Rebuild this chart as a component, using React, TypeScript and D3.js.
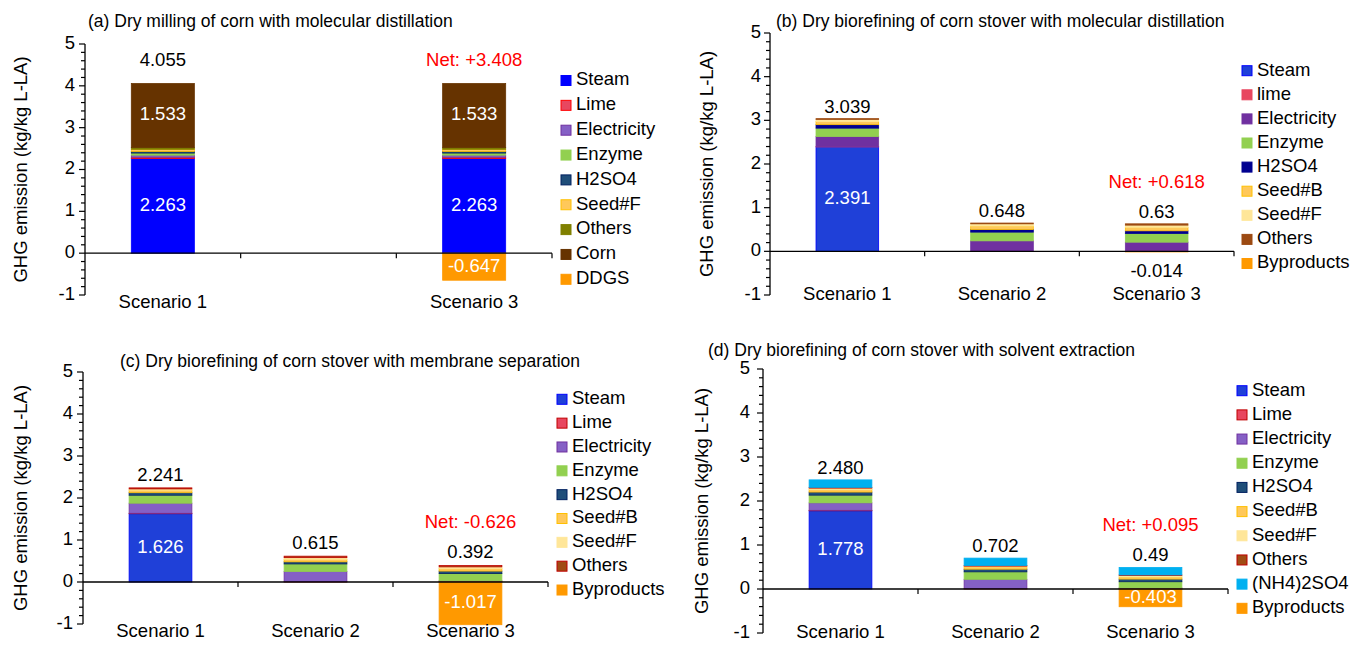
import React from "react";
import * as d3 from "d3";

// ---------- DATA ----------
const scenarios = ["Scenario 1", "Scenario 2", "Scenario 3"];

// Panel (a)
const aTitle = "(a) Dry milling of corn with molecular distillation";
const aScenarioLabels = ["Scenario 1", "", "Scenario 3"];
const aSeries = ["Steam", "Lime", "Electricity", "Enzyme", "H2SO4", "Seed#F", "Others", "Corn", "DDGS"];
const aValues = [
  [2.263, 0, 2.263],
  [0.03, 0, 0.03],
  [0.05, 0, 0.05],
  [0.05, 0, 0.05],
  [0.04, 0, 0.04],
  [0.05, 0, 0.05],
  [0.039, 0, 0.039],
  [1.533, 0, 1.533],
  [0, 0, -0.647],
];
const aTotals = ["4.055", "", ""];
const aNet = ["", "", "Net: +3.408"];
const aBelow = ["", "", ""];
const aInside = [
  { series: "Corn", scenario: 0, text: "1.533" },
  { series: "Steam", scenario: 0, text: "2.263" },
  { series: "Corn", scenario: 2, text: "1.533" },
  { series: "Steam", scenario: 2, text: "2.263" },
  { series: "DDGS", scenario: 2, text: "-0.647" },
];

// Panel (b)
const bTitle = "(b) Dry biorefining of corn stover with molecular distillation";
const bSeries = ["Steam", "lime", "Electricity", "Enzyme", "H2SO4", "Seed#B", "Seed#F", "Others", "Byproducts"];
const bValues = [
  [2.391, 0, 0],
  [0.01, 0, 0],
  [0.23, 0.24, 0.21],
  [0.19, 0.2, 0.2],
  [0.08, 0.06, 0.06],
  [0.07, 0.08, 0.08],
  [0.05, 0.05, 0.05],
  [0.018, 0.018, 0.03],
  [0, 0, -0.014],
];
const bTotals = ["3.039", "0.648", "0.63"];
const bNet = ["", "", "Net: +0.618"];
const bBelow = ["", "", "-0.014"];
const bInside = [{ series: "Steam", scenario: 0, text: "2.391" }];

// Panel (c)
const cTitle = "(c) Dry biorefining of corn stover with membrane separation";
const cSeries = ["Steam", "Lime", "Electricity", "Enzyme", "H2SO4", "Seed#B", "Seed#F", "Others", "Byproducts"];
const cValues = [
  [1.626, 0, 0],
  [0.01, 0.01, 0.01],
  [0.24, 0.24, 0.02],
  [0.19, 0.18, 0.17],
  [0.06, 0.05, 0.06],
  [0.06, 0.06, 0.06],
  [0.03, 0.04, 0.04],
  [0.025, 0.035, 0.032],
  [0, 0, -1.017],
];
const cTotals = ["2.241", "0.615", "0.392"];
const cNet = ["", "", "Net: -0.626"];
const cBelow = ["", "", ""];
const cInside = [
  { series: "Steam", scenario: 0, text: "1.626" },
  { series: "Byproducts", scenario: 2, text: "-1.017" },
];

// Panel (d)
const dTitle = "(d) Dry biorefining of corn stover with solvent extraction";
const dSeries = ["Steam", "Lime", "Electricity", "Enzyme", "H2SO4", "Seed#B", "Seed#F", "Others", "(NH4)2SO4", "Byproducts"];
const dValues = [
  [1.778, 0, 0],
  [0.01, 0.01, 0.005],
  [0.17, 0.21, 0.02],
  [0.175, 0.17, 0.14],
  [0.07, 0.06, 0.06],
  [0.06, 0.05, 0.05],
  [0.03, 0.02, 0.03],
  [0.017, 0.012, 0.015],
  [0.17, 0.17, 0.17],
  [0, 0, -0.403],
];
const dTotals = ["2.480", "0.702", "0.49"];
const dNet = ["", "", "Net: +0.095"];
const dBelow = ["", "", ""];
const dInside = [
  { series: "Steam", scenario: 0, text: "1.778" },
  { series: "Byproducts", scenario: 2, text: "-0.403" },
];

const yTicks = [5, 4, 3, 2, 1, 0, -1];
const yLabel = "GHG emission (kg/kg L-LA)";

// ---------- STYLES ----------
type Sty = { fill: string; stroke: string };
const stylesA: Record<string, Sty> = {
  Steam: { fill: "#0000FF", stroke: "#0000FF" },
  Lime: { fill: "#E8475F", stroke: "#FF0000" },
  Electricity: { fill: "#8560C5", stroke: "#7030A0" },
  Enzyme: { fill: "#92D050", stroke: "#92D050" },
  H2SO4: { fill: "#1F4E79", stroke: "#002060" },
  "Seed#F": { fill: "#FFC85A", stroke: "#FFC000" },
  Others: { fill: "#808000", stroke: "#808000" },
  Corn: { fill: "#663300", stroke: "#663300" },
  DDGS: { fill: "#FF9900", stroke: "#FF9900" },
};
const stylesB: Record<string, Sty> = {
  Steam: { fill: "#1F40D8", stroke: "#0000FF" },
  lime: { fill: "#E8475F", stroke: "#E8475F" },
  Electricity: { fill: "#7030A0", stroke: "#7030A0" },
  Enzyme: { fill: "#92D050", stroke: "#92D050" },
  H2SO4: { fill: "#000090", stroke: "#000090" },
  "Seed#B": { fill: "#FFC85A", stroke: "#FFC000" },
  "Seed#F": { fill: "#FFE699", stroke: "#FFE699" },
  Others: { fill: "#9C4A12", stroke: "#9C4A12" },
  Byproducts: { fill: "#FF9900", stroke: "#FF9900" },
};
const stylesC: Record<string, Sty> = {
  Steam: { fill: "#1F40D8", stroke: "#0000FF" },
  Lime: { fill: "#E8475F", stroke: "#C00000" },
  Electricity: { fill: "#8560C5", stroke: "#7030A0" },
  Enzyme: { fill: "#92D050", stroke: "#92D050" },
  H2SO4: { fill: "#1F4E79", stroke: "#002060" },
  "Seed#B": { fill: "#FFC85A", stroke: "#FFC000" },
  "Seed#F": { fill: "#FFE699", stroke: "#FFE699" },
  Others: { fill: "#A04C14", stroke: "#C00000" },
  Byproducts: { fill: "#FF9900", stroke: "#FF9900" },
};
const stylesD: Record<string, Sty> = {
  ...stylesC,
  "(NH4)2SO4": { fill: "#00B0F0", stroke: "#00B0F0" },
};

const FONT = "'Liberation Sans', Arial, Helvetica, sans-serif";

type PanelProps = {
  title: string;
  titleX: number;
  titleY: number;
  series: string[];
  values: number[][];
  styles: Record<string, Sty>;
  scenarioLabels: string[];
  totals: string[];
  net: string[];
  below: string[];
  inside: { series: string; scenario: number; text: string }[];
  x0: number;
  x1: number;
  yTop: number;
  yBottom: number;
  yLabelX: number;
  xLabelY: number;
  totalOffset: number;
  legendX: number;
  legendY: number;
  legendDy: number;
  tickGap: number;
};

function Panel(p: PanelProps) {
  const x = d3.scaleBand<string>().domain(scenarios).range([p.x0, p.x1]).paddingInner(0).paddingOuter(0);
  const y = d3.scaleLinear().domain([-1, 5]).range([p.yBottom, p.yTop]);
  const barW = x.bandwidth() * 0.405;
  const rows = scenarios.map((s, i) => {
    const r: any = { scenario: s };
    p.series.forEach((k, j) => (r[k] = p.values[j][i]));
    return r;
  });
  const stacked = d3.stack<any>().keys(p.series).offset(d3.stackOffsetDiverging)(rows);
  const minor = d3.range(-1, 5.0001, 0.2).map((v) => Math.round(v * 10) / 10);
  const y0 = y(0);
  const cx = (i: number) => (x(scenarios[i]) as number) + x.bandwidth() / 2;
  const topOf = (i: number) => Math.max(...stacked.map((s) => s[i][1]));
  const botOf = (i: number) => Math.min(...stacked.map((s) => s[i][0]));
  const fs = 18.5;

  return (
    <g fontFamily={FONT}>
      <text x={p.titleX} y={p.titleY} fontSize={17.5} dominantBaseline="middle" fill="#000">
        {p.title}
      </text>
      <text
        transform={`translate(${p.yLabelX},${(p.yTop + p.yBottom) / 2}) rotate(-90)`}
        textAnchor="middle"
        dominantBaseline="middle"
        fontSize={18.5}
        fill="#000"
      >
        {yLabel}
      </text>
      {/* bars */}
      {stacked.map((layer) => {
        const st = p.styles[layer.key];
        return (
          <g key={layer.key}>
            {layer.map((d, i) => {
              const h = Math.abs(y(d[0]) - y(d[1]));
              if (h <= 0) return null;
              return (
                <rect
                  key={i}
                  x={cx(i) - barW / 2}
                  y={Math.min(y(d[0]), y(d[1]))}
                  width={barW}
                  height={h}
                  fill={st.fill}
                  stroke={st.stroke}
                  strokeWidth={0.8}
                />
              );
            })}
          </g>
        );
      })}
      {/* y axis */}
      <line x1={p.x0} x2={p.x0} y1={y(5)} y2={y(-1)} stroke="#000" strokeWidth={1.3} />
      {minor.map((v) => (
        <line key={"m" + v} x1={p.x0 - (Number.isInteger(v) ? 6 : 4)} x2={p.x0} y1={y(v)} y2={y(v)} stroke="#000" strokeWidth={1.2} />
      ))}
      {yTicks.map((v) => (
        <text key={"t" + v} x={p.x0 - p.tickGap} y={y(v)} textAnchor="end" dominantBaseline="middle" fontSize={fs} fill="#000">
          {v}
        </text>
      ))}
      {/* x axis */}
      <line x1={p.x0} x2={p.x1} y1={y0} y2={y0} stroke="#000" strokeWidth={1.3} />
      {scenarios.map((s, i) => (
        <line key={"xt" + i} x1={(x(s) as number) + x.bandwidth()} x2={(x(s) as number) + x.bandwidth()} y1={y0} y2={y0 + 5} stroke="#000" strokeWidth={1.2} />
      ))}
      {p.scenarioLabels.map((s, i) =>
        s ? (
          <text key={"xl" + i} x={cx(i)} y={p.xLabelY} textAnchor="middle" dominantBaseline="middle" fontSize={fs} fill="#000">
            {s}
          </text>
        ) : null
      )}
      {/* labels */}
      {p.totals.map((t, i) =>
        t ? (
          <text key={"tot" + i} x={cx(i)} y={y(topOf(i)) - p.totalOffset} textAnchor="middle" dominantBaseline="middle" fontSize={fs} fill="#000">
            {t}
          </text>
        ) : null
      )}
      {p.net.map((t, i) =>
        t ? (
          <text
            key={"net" + i}
            x={cx(i)}
            y={p.totals[i] ? y(topOf(i)) - p.totalOffset - 30 : y(topOf(i)) - p.totalOffset}
            textAnchor="middle"
            dominantBaseline="middle"
            fontSize={fs}
            fill="#FF0000"
          >
            {t}
          </text>
        ) : null
      )}
      {p.below.map((t, i) =>
        t ? (
          <text key={"bel" + i} x={cx(i)} y={y(botOf(i)) + 20} textAnchor="middle" dominantBaseline="middle" fontSize={fs} fill="#000">
            {t}
          </text>
        ) : null
      )}
      {p.inside.map((lab, k) => {
        const layer = stacked.find((s) => s.key === lab.series)!;
        const d = layer[lab.scenario];
        return (
          <text
            key={"in" + k}
            x={cx(lab.scenario)}
            y={(y(d[0]) + y(d[1])) / 2}
            textAnchor="middle"
            dominantBaseline="middle"
            fontSize={fs}
            fill="#FFFFFF"
          >
            {lab.text}
          </text>
        );
      })}
      {/* legend */}
      {p.series.map((k, i) => {
        const st = p.styles[k];
        const ly = p.legendY + i * p.legendDy;
        return (
          <g key={"lg" + k}>
            <rect x={p.legendX} y={ly - 5} width={10} height={10} fill={st.fill} stroke={st.stroke} strokeWidth={1} />
            <text x={p.legendX + 15} y={ly} dominantBaseline="middle" fontSize={fs} fill="#000">
              {k}
            </text>
          </g>
        );
      })}
    </g>
  );
}

export default function App() {
  return (
    <svg width={1352} height={657} style={{ position: "absolute", left: 0, top: 0, background: "#fff" }}>
      <rect x={0} y={0} width={1352} height={657} fill="#fff" />
      <Panel
        title={aTitle} titleX={88} titleY={22}
        series={aSeries} values={aValues} styles={stylesA}
        scenarioLabels={aScenarioLabels} totals={aTotals} net={aNet} below={aBelow} inside={aInside}
        x0={85} x1={552} yTop={44} yBottom={295} yLabelX={22} xLabelY={303} totalOffset={22}
        legendX={561} legendY={80.5} legendDy={24.85} tickGap={10}
      />
      <Panel
        title={bTitle} titleX={776} titleY={22}
        series={bSeries} values={bValues} styles={stylesB}
        scenarioLabels={scenarios} totals={bTotals} net={bNet} below={bBelow} inside={bInside}
        x0={770} x1={1234} yTop={33} yBottom={295} yLabelX={708} xLabelY={295} totalOffset={11}
        legendX={1242} legendY={70.7} legendDy={24.1} tickGap={9}
      />
      <Panel
        title={cTitle} titleX={120} titleY={362}
        series={cSeries} values={cValues} styles={stylesC}
        scenarioLabels={scenarios} totals={cTotals} net={cNet} below={cBelow} inside={cInside}
        x0={83} x1={548} yTop={372} yBottom={624} yLabelX={22} xLabelY={632} totalOffset={12}
        legendX={557} legendY={399.3} legendDy={23.84} tickGap={10}
      />
      <Panel
        title={dTitle} titleX={708} titleY={351}
        series={dSeries} values={dValues} styles={stylesD}
        scenarioLabels={scenarios} totals={dTotals} net={dNet} below={dBelow} inside={dInside}
        x0={763} x1={1228} yTop={369} yBottom={633} yLabelX={703} xLabelY={633} totalOffset={11}
        legendX={1237} legendY={390.7} legendDy={24.18} tickGap={13}
      />
    </svg>
  );
}
